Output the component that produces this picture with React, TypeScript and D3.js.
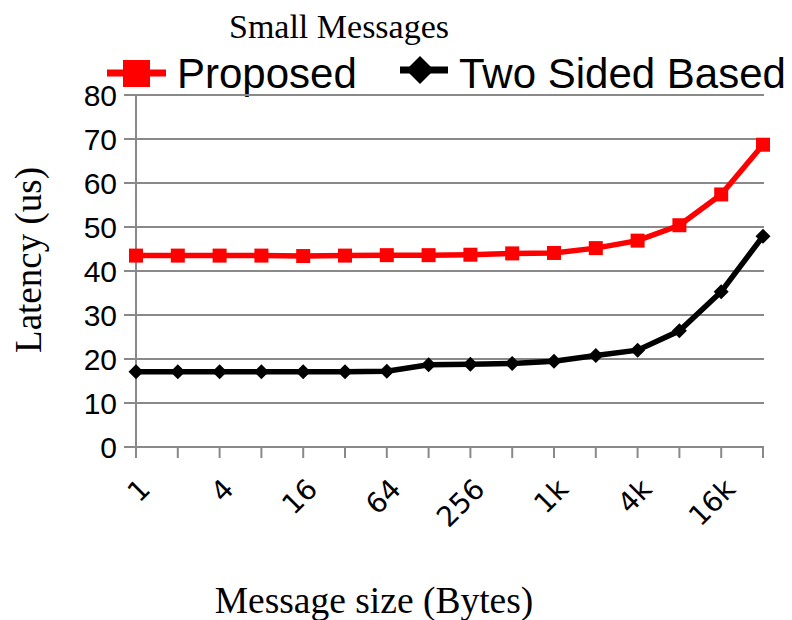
import React from "react";
import * as d3 from "d3";

// Message sizes (bytes) on the x axis
const sizes = ["1", "2", "4", "8", "16", "32", "64", "128", "256", "512", "1k", "2k", "4k", "8k", "16k", "32k"];
// Latency in microseconds
const proposed = [43.5, 43.5, 43.5, 43.5, 43.4, 43.5, 43.6, 43.6, 43.7, 44.0, 44.1, 45.2, 46.9, 50.4, 57.4, 68.7];
const twoSided = [17.1, 17.1, 17.1, 17.1, 17.1, 17.1, 17.2, 18.7, 18.8, 19.0, 19.5, 20.8, 22.0, 26.4, 35.3, 47.9];
const yTicks = [0, 10, 20, 30, 40, 50, 60, 70, 80];
// only every other size gets a label
const labelled = ["1", "4", "16", "64", "256", "1k", "4k", "16k"];

const W = 792;
const H = 620;
const left = 136;
const right = 763;
const top = 95;
const bottom = 447;

const SANS = "'Liberation Sans', Arial, sans-serif";
const SERIF = "'Liberation Serif', 'Times New Roman', serif";
const GRID = "#898989";

export default function App() {
  const x = d3.scalePoint<string>().domain(sizes).range([left, right]);
  const y = d3.scaleLinear().domain([0, 80]).range([bottom, top]);

  const line = d3
    .line<number>()
    .x((_, i) => x(sizes[i]) as number)
    .y((d) => y(d));

  const diamond = (cx: number, cy: number, r: number) =>
    `M${cx},${cy - r}L${cx + r},${cy}L${cx},${cy + r}L${cx - r},${cy}Z`;

  return (
    <svg
      width={W}
      height={H}
      style={{ position: "absolute", left: 0, top: 0, background: "#fff" }}
    >
      {/* title */}
      <text x={339} y={38} textAnchor="middle" fontFamily={SERIF} fontSize={34}>
        Small Messages
      </text>

      {/* legend */}
      <g>
        <line x1={107} x2={166} y1={73} y2={73} stroke="#ff0000" strokeWidth={7} />
        <rect x={123} y={60} width={27} height={27} fill="#ff0000" />
        <text x={177} y={88} fontFamily={SANS} fontSize={42}>
          Proposed
        </text>
        <line x1={400} x2={448} y1={70} y2={70} stroke="#000" strokeWidth={7} />
        <path d={diamond(420, 70, 14)} fill="#000" />
        <text x={459} y={88} fontFamily={SANS} fontSize={42}>
          Two Sided Based
        </text>
      </g>

      {/* horizontal grid lines with outward ticks */}
      {yTicks.map((t) => (
        <g key={t}>
          <line x1={124} x2={right + 1} y1={y(t)} y2={y(t)} stroke={GRID} strokeWidth={2} />
          <text
            x={117}
            y={y(t)}
            dy="0.36em"
            textAnchor="end"
            fontFamily={SANS}
            fontSize={30}
          >
            {t}
          </text>
        </g>
      ))}

      {/* y axis */}
      <line x1={left} x2={left} y1={top} y2={bottom + 11} stroke={GRID} strokeWidth={2} />

      {/* x ticks and labels */}
      {sizes.map((s) => (
        <g key={s}>
          <line
            x1={x(s)}
            x2={x(s)}
            y1={bottom}
            y2={bottom + 11}
            stroke={GRID}
            strokeWidth={2}
          />
          {labelled.includes(s) && (
            <text
              transform={`translate(${(x(s) as number) + 2},${bottom + 30}) rotate(-45)`}
              textAnchor="end"
              dy="0.7em"
              fontFamily="'DejaVu Sans', sans-serif"
              fontSize={28}
            >
              {s}
            </text>
          )}
        </g>
      ))}

      {/* series */}
      <path d={line(twoSided) ?? ""} fill="none" stroke="#000" strokeWidth={5.5} />
      {twoSided.map((v, i) => (
        <path key={`b${i}`} d={diamond(x(sizes[i]) as number, y(v), 7.5)} fill="#000" />
      ))}
      <path d={line(proposed) ?? ""} fill="none" stroke="#ff0000" strokeWidth={5.5} />
      {proposed.map((v, i) => (
        <rect
          key={`r${i}`}
          x={(x(sizes[i]) as number) - 7}
          y={y(v) - 7}
          width={14}
          height={14}
          fill="#ff0000"
        />
      ))}

      {/* axis titles */}
      <text x={374} y={613} textAnchor="middle" fontFamily={SERIF} fontSize={37.5}>
        Message size (Bytes)
      </text>
      <text
        transform={`translate(41,260) rotate(-90)`}
        textAnchor="middle"
        fontFamily={SERIF}
        fontSize={37}
      >
        Latency (us)
      </text>
    </svg>
  );
}
